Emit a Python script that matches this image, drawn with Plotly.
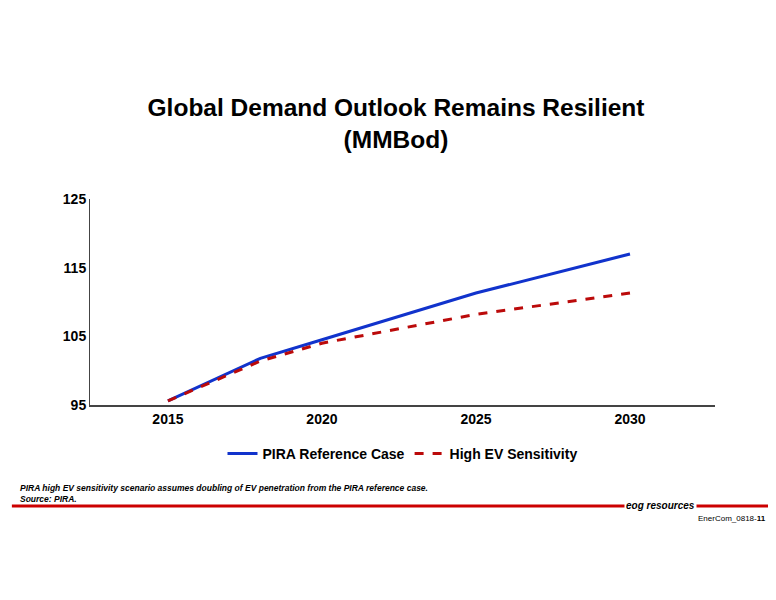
import plotly.graph_objects as go

years = [2015, 2018, 2020, 2025, 2030]
pira_ref = [95.6, 101.8, 104.5, 111.3, 117.0]
high_ev = [95.6, 101.4, 104.0, 108.2, 111.3]
x_ticks = [2015, 2020, 2025, 2030]
y_ticks = [95, 105, 115, 125]

fig = go.Figure()
fig.add_trace(go.Scatter(x=years, y=pira_ref, mode="lines", name="PIRA Reference Case",
                         line=dict(color="#1133cc", width=3)))
fig.add_trace(go.Scatter(x=years, y=high_ev, mode="lines", name="High EV Sensitivity",
                         line=dict(color="#bb0a0a", width=3, dash="dash")))

font = "Liberation Sans, Arial, sans-serif"
fig.update_layout(
    width=776, height=600, paper_bgcolor="white", plot_bgcolor="white",
    margin=dict(l=82, r=69, t=191, b=203),
    font=dict(family=font, color="black"),
    title=dict(text="<b>Global Demand Outlook Remains Resilient<br>(MMBod)</b>",
               x=0.5, xanchor="center", y=0.82, yanchor="middle",
               font=dict(size=24.5, family=font, color="black")),
    xaxis=dict(range=[2012.47, 2032.76], tickvals=x_ticks, showgrid=False, zeroline=False,
               showline=True, linecolor="#444", linewidth=1.5, ticks="",
               tickfont=dict(size=14, family=font, weight="bold")),
    yaxis=dict(range=[95, 125], tickvals=y_ticks, showgrid=False, zeroline=False,
               showline=True, linecolor="#444", linewidth=1, ticks="",
               tickfont=dict(size=14, family=font, weight="bold")),
    legend=dict(orientation="h", x=0.5, xanchor="center", y=-0.16, yanchor="top",
                font=dict(size=14, family=font, weight="bold"), itemwidth=30),
)
fig.add_annotation(text="<i><b>PIRA high EV sensitivity scenario assumes doubling of EV penetration from the PIRA reference case.<br>Source: PIRA.</b></i>",
                   xref="paper", yref="paper", x=-0.115, y=-0.37, xanchor="left", yanchor="top",
                   align="left", showarrow=False, font=dict(size=8.5, family=font))
fig.add_shape(type="line", xref="paper", yref="paper", x0=-0.125, x1=1.09, y0=-0.49, y1=-0.49,
              line=dict(color="#cc0000", width=3))
fig.add_annotation(text="<i><b>eog resources</b></i>", xref="paper", yref="paper", x=0.855, y=-0.49,
                   xanchor="left", yanchor="middle", showarrow=False,
                   font=dict(size=10, family=font), bgcolor="white")
fig.add_annotation(text="EnerCom_0818-<b>11</b>", xref="paper", yref="paper", x=1.085, y=-0.52,
                   xanchor="right", yanchor="top", showarrow=False, font=dict(size=8, family=font))
fig.write_html("out.html")
